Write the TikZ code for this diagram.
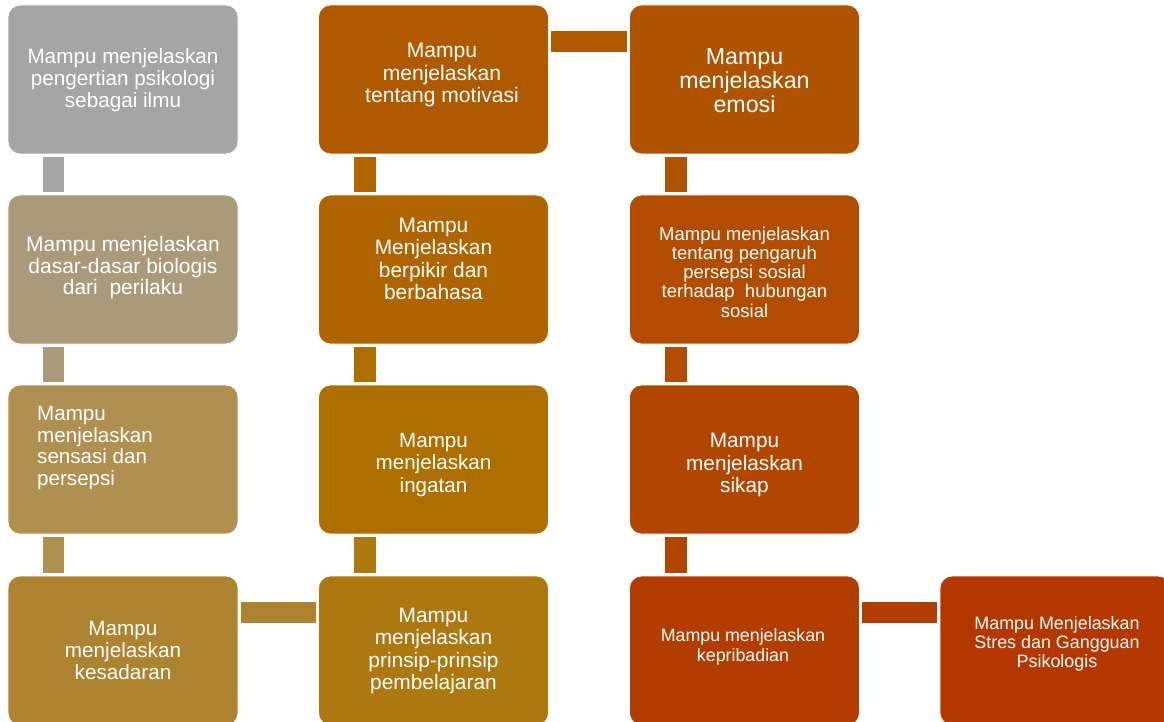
\documentclass[tikz,border=0pt]{standalone}
\usepackage{fontspec}
\setmainfont{Liberation Sans}
\usetikzlibrary{calc}
\definecolor{c1}{HTML}{A5A5A5}
\definecolor{c2}{HTML}{AA9A79}
\definecolor{c3}{HTML}{AF9050}
\definecolor{c4}{HTML}{AD8330}
\definecolor{c5}{HTML}{AE7811}
\definecolor{c6}{HTML}{AE6E00}
\definecolor{c7}{HTML}{AF6400}
\definecolor{c8}{HTML}{B05A00}
\definecolor{c9}{HTML}{B05300}
\definecolor{c10}{HTML}{B14C00}
\definecolor{c11}{HTML}{B24600}
\definecolor{c12}{HTML}{B33D00}
\definecolor{c13}{HTML}{B53700}
\tikzset{
  box/.style={rectangle, rounded corners=12pt, minimum width=230pt, minimum height=149pt, inner sep=0pt, draw=white, line width=0.8pt},
  txt/.style={text=white, align=center, inner sep=0pt},
  bar/.style={line width=21.5pt, shorten >=2.5pt, shorten <=2.5pt}
}
\begin{document}
\begin{tikzpicture}[x=1pt,y=-1pt]
\useasboundingbox (0,0) rectangle (1164,722);
\clip (0,0) rectangle (1164,722);
% boxes
\node[box, fill=c1] (b1) at (123,79.5) {};
\node[box, fill=c2] (b2) at (123,269.5) {};
\node[box, fill=c3] (b3) at (123,459.5) {};
\node[box, fill=c4] (b4) at (123,650.5) {};
\node[box, fill=c5] (b5) at (433.5,650.5) {};
\node[box, fill=c6] (b6) at (433.5,459.5) {};
\node[box, fill=c7] (b7) at (433.5,269.5) {};
\node[box, fill=c8] (b8) at (433.5,79.5) {};
\node[box, fill=c9] (b9) at (744.5,79.5) {};
\node[box, fill=c10] (b10) at (744.5,269.5) {};
\node[box, fill=c11] (b11) at (744.5,459.5) {};
\node[box, fill=c12] (b12) at (744.5,650.5) {};
\node[box, fill=c13] (b13) at (1055,650.5) {};
% texts
\node[txt, font=\fontsize{20.7}{22}\selectfont] (t1) at (123,80) {Mampu menjelaskan\\pengertian psikologi\\sebagai ilmu};
\node[txt, font=\fontsize{21}{21.5}\selectfont] (t2) at (123,268) {Mampu menjelaskan\\dasar-dasar biologis\\dari\ \ perilaku};
\node[txt, align=left, anchor=west, font=\fontsize{20.6}{21.7}\selectfont] (t3) at (37,448) {Mampu\\menjelaskan\\sensasi dan\\persepsi};
\node[txt, font=\fontsize{20.7}{22}\selectfont] (t4) at (123,650) {Mampu\\menjelaskan\\kesadaran};
\node[txt, font=\fontsize{20.9}{22.5}\selectfont] (t5) at (433.5,651) {Mampu\\menjelaskan\\prinsip-prinsip\\pembelajaran};
\node[txt, font=\fontsize{20.6}{22.5}\selectfont] (t6) at (433.5,465) {Mampu\\menjelaskan\\ingatan};
\node[txt, font=\fontsize{20.9}{22.3}\selectfont] (t7) at (433.5,259) {Mampu\\Menjelaskan\\berpikir dan\\berbahasa};
\node[txt, font=\fontsize{21.1}{22.5}\selectfont] (t8) at (442,75) {Mampu\\menjelaskan\\tentang motivasi};
\node[txt, font=\fontsize{23.2}{24}\selectfont] (t9) at (744.5,81) {Mampu\\menjelaskan\\emosi};
\node[txt, font=\fontsize{18.5}{19.3}\selectfont] (t10) at (744.5,272) {Mampu menjelaskan\\tentang pengaruh\\persepsi sosial\\terhadap\ \ hubungan\\sosial};
\node[txt, font=\fontsize{20.8}{22.5}\selectfont] (t11) at (744.5,465) {Mampu\\menjelaskan\\sikap};
\node[txt, font=\fontsize{17.8}{20}\selectfont] (t12) at (743,647) {Mampu menjelaskan\\kepribadian};
\node[txt, font=\fontsize{17.9}{19}\selectfont] (t13) at (1057,644) {Mampu Menjelaskan\\Stres dan Gangguan\\Psikologis};
% connectors
\draw[bar, c1] ($(b1.south)+(-69.5,0)$) -- ($(b2.north)+(-69.5,0)$);
\draw[bar, c2] ($(b2.south)+(-69.5,0)$) -- ($(b3.north)+(-69.5,0)$);
\draw[bar, c3] ($(b3.south)+(-69.5,0)$) -- ($(b4.north)+(-69.5,0)$);
\draw[bar, c4] ($(b4.east)+(0,-38)$) -- ($(b5.west)+(0,-38)$);
\draw[bar, c5] ($(b5.north)+(-68.5,0)$) -- ($(b6.south)+(-68.5,0)$);
\draw[bar, c6] ($(b6.north)+(-68.5,0)$) -- ($(b7.south)+(-68.5,0)$);
\draw[bar, c7] ($(b7.north)+(-68.5,0)$) -- ($(b8.south)+(-68.5,0)$);
\draw[bar, c8] ($(b8.east)+(0,-38)$) -- ($(b9.west)+(0,-38)$);
\draw[bar, c9] ($(b9.south)+(-68.5,0)$) -- ($(b10.north)+(-68.5,0)$);
\draw[bar, c10] ($(b10.south)+(-68.5,0)$) -- ($(b11.north)+(-68.5,0)$);
\draw[bar, c11] ($(b11.south)+(-68.5,0)$) -- ($(b12.north)+(-68.5,0)$);
\draw[bar, c12] ($(b12.east)+(0,-38)$) -- ($(b13.west)+(0,-38)$);
\end{tikzpicture}
\end{document}
